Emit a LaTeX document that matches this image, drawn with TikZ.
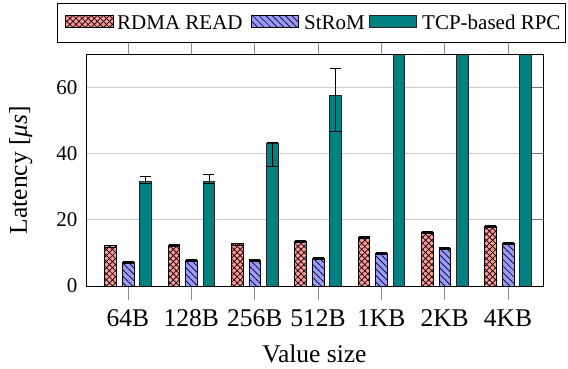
\documentclass[tikz,border=0pt]{standalone}
\usepackage{fontspec}
\setmainfont{Liberation Serif}
\usetikzlibrary{patterns.meta}

\definecolor{rdmafill}{RGB}{255,153,153}
\definecolor{stromfill}{RGB}{153,153,255}
\definecolor{tcpfill}{RGB}{0,128,128}

\newcommand\axisfont{\fontsize{25.5}{30}\selectfont}
\newcommand\tickfont{\fontsize{21}{25}\selectfont}

\tikzset{
  barframe/.style={draw=black, line width=0.9pt},
  errbar/.style={draw=black, line width=0.8pt},
  gridline/.style={draw=black!20, line width=0.8pt},
  tickmark/.style={draw=black!45, line width=0.8pt},
  innertick/.style={draw=black!55, line width=0.8pt},
  rdmabar/.style={fill=rdmafill,
    postaction={pattern={Hatch[angle=45,distance=4.3pt,line width=0.7pt]}, pattern color=black},
    postaction={barframe}},
  strombar/.style={fill=stromfill,
    postaction={pattern={Lines[angle=-45,distance=4.6pt,line width=0.7pt]}, pattern color=black},
    postaction={barframe}},
  tcpbar/.style={fill=tcpfill, draw=black!85, line width=0.9pt},
  ticklabel/.style={font=\tickfont, inner sep=0pt},
  axislabel/.style={font=\axisfont, inner sep=0pt},
  declare function={vy(\v)=286-3.314*\v;}
}

% error bar with caps: centre x, low value, high value
\newcommand\errorbar[3]{%
  \draw[errbar] (#1,{vy(#2)}) -- (#1,{vy(#3)})
    ({#1-5.5},{vy(#2)}) -- ({#1+5.5},{vy(#2)})
    ({#1-5.5},{vy(#3)}) -- ({#1+5.5},{vy(#3)});
}

\begin{document}
\begin{tikzpicture}[x=1pt,y=-1pt]
\useasboundingbox (0,0) rectangle (568,368);

% horizontal grid
\foreach \v in {0,20,40,60}
  \draw[gridline] (86,{vy(\v)}) -- (543,{vy(\v)});
\foreach \v in {20,40,60}
  \draw[innertick] (532,{vy(\v)}) -- (543,{vy(\v)});

% y tick labels
\foreach \v in {0,20,40,60}
  \node[ticklabel, anchor=east] (ytick\v) at (77.5,{vy(\v)}) {\v};

% x tick marks and labels
\foreach \i/\lab in {0/64B,1/128B,2/256B,3/512B,4/1KB,5/2KB,6/4KB}{
  \pgfmathsetmacro\cx{128+63.33*\i}
  \draw[tickmark] (\cx,286) -- (\cx,300);
  \draw[tickmark] (\cx,54) -- (\cx,42);
  \node[axislabel, anchor=base] (xtick\i) at (\cx,326) {\lab};
}

% bars and error bars
\begin{scope}
\clip (86,54) rectangle (543,286);
\foreach \i/\a/\b/\c/\clo/\chi in {
    0/12.1/7.2/31.6/31.0/33.2,
    1/12.3/7.6/31.6/31.0/33.7,
    2/12.7/7.8/43.1/36.2/43.4,
    3/13.4/8.3/57.4/46.6/65.8,
    4/14.6/9.7/75/74/76,
    5/16.3/11.2/75/74/76,
    6/17.9/12.9/75/74/76}{
  \pgfmathsetmacro\cx{128+63.33*\i}
  \pgfmathsetmacro\xa{\cx-17.3}
  \pgfmathsetmacro\xb{\cx+0.3}
  \pgfmathsetmacro\xc{\cx+17.6}
  \path[rdmabar] ({\xa-5.8},286) rectangle ({\xa+5.8},{vy(\a)});
  \path[strombar] ({\xb-5.8},286) rectangle ({\xb+5.8},{vy(\b)});
  \path[tcpbar] ({\xc-5.8},286) rectangle ({\xc+5.8},{vy(\c)});
  \errorbar{\xa}{\a-0.3}{\a+0.3}
  \errorbar{\xb}{\b-0.3}{\b+0.3}
  \errorbar{\xc}{\clo}{\chi}
}
\end{scope}

% axis frame
\draw[black, line width=0.9pt] (86,54) rectangle (543,286);

% axis titles
\node[axislabel, anchor=base] (xtitle) at (314.5,362) {Value size};
\node[axislabel, anchor=base, rotate=90] (ytitle) at (27,170) {Latency [\textit{μs}]};

% legend
\draw[fill=white, draw=black, line width=0.9pt] (57,3) rectangle (565,42);
\path[rdmabar] (65,15.7) rectangle (113,27.3);
\node[ticklabel, anchor=base west] (legA) at (117,29) {RDMA READ};
\path[strombar] (251,15.7) rectangle (298,27.3);
\node[ticklabel, anchor=base west] (legB) at (304,29) {StRoM};
\path[tcpbar] (369.6,15.7) rectangle (416,27.3);
\node[ticklabel, anchor=base west] (legC) at (422,29) {TCP-based RPC};
\end{tikzpicture}
\end{document}
